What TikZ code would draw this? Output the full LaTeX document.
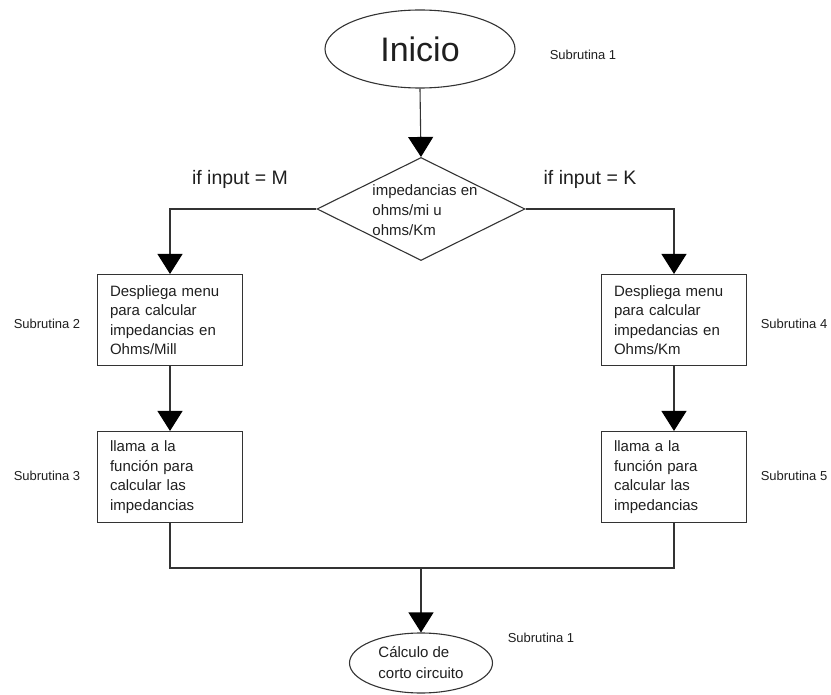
\documentclass[tikz,border=0pt]{standalone}
\usepackage{fontspec}
\setmainfont{Liberation Sans}
\usetikzlibrary{shapes.geometric,arrows.meta}
\begin{document}
\begin{tikzpicture}[x=1pt,y=-1pt,
  every node/.style={text=black!88},
  line/.style={draw=black!80,line width=1.1pt},
  arr/.style={line,-{Triangle[width=25pt,length=20pt,color=black]}},
  procbox/.style={draw=black!80,line width=1.1pt,rectangle,text width=120pt,inner xsep=12.5pt,
     minimum height=91pt,align=left,font=\fontsize{15}{19.5}\selectfont},
  sublabel/.style={font=\fontsize{13}{15}\selectfont},
  iflabel/.style={font=\fontsize{19.5}{22}\selectfont}]
\useasboundingbox (0,0) rectangle (831,695);
\node[ellipse,draw=black!80,line width=1.1pt,minimum width=190pt,minimum height=78pt,inner sep=0pt,
      font=\fontsize{34}{38}\selectfont] (start) at (420,49) {Inicio};
\node[sublabel] (s1a) at (583,55) {Subrutina 1};
\node[diamond,draw=black!80,line width=1.1pt,minimum width=208pt,minimum height=103pt,inner sep=0pt] (dec) at (421,209) {};
\node[align=left,inner sep=0pt,font=\fontsize{15}{20}\selectfont] (dect) at (425,210) {impedancias en\\ohms/mi u\\ohms/Km};
\node[iflabel] (ifm) at (240,179) {if input = M};
\node[iflabel] (ifk) at (590,179) {if input = K};
\node[procbox] (b1) at (170,320) {Despliega menu\\para calcular\\impedancias en\\Ohms/Mill};
\node[procbox] (b2) at (170,477) {llama a la\\función para\\calcular las\\impedancias};
\node[procbox] (b4) at (674,320) {Despliega menu\\para calcular\\impedancias en\\Ohms/Km};
\node[procbox] (b5) at (674,477) {llama a la\\función para\\calcular las\\impedancias};
\node[sublabel] (s2) at (47,324) {Subrutina 2};
\node[sublabel] (s3) at (47,476) {Subrutina 3};
\node[sublabel] (s4) at (794,324) {Subrutina 4};
\node[sublabel] (s5) at (794,476) {Subrutina 5};
\node[ellipse,draw=black!80,line width=1.1pt,minimum width=143pt,minimum height=60pt,inner sep=0pt,
      align=left,font=\fontsize{15}{21}\selectfont] (end) at (421,663) {Cálculo de\\corto circuito};
\node[sublabel] (s1b) at (541,638) {Subrutina 1};
\coordinate (m) at (421,568);
\draw[arr] (start.south) -- (dec.north);
\draw[arr] (dec.west) -| (b1.north);
\draw[arr] (dec.east) -| (b4.north);
\draw[arr] (b1.south) -- (b2.north);
\draw[arr] (b4.south) -- (b5.north);
\draw[line] (b2.south) |- (m);
\draw[line] (b5.south) |- (m);
\draw[arr] (m) -- (end.north);
\end{tikzpicture}
\end{document}
